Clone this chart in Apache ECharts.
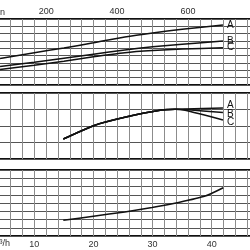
<!DOCTYPE html>
<html><head><meta charset="utf-8">
<script src="https://cdn.jsdelivr.net/npm/echarts@6/dist/echarts.min.js"></script>
<style>html,body{margin:0;padding:0;background:#fff}#c{width:250px;height:250px}</style>
</head><body><div id="c"></div>
<script>
// Flow in m3/h (bottom axis); top axis in l/min
var bottomTicks = [10, 20, 30, 40];
var topTicks = [200, 400, 600];
var curveNames = ['A', 'B', 'C'];
// Panel 1 (grid units 0..9)
var p1A = [[4.2,3.62],[10,4.4],[15,5.05],[20,5.75],[25.3,6.55],[30,7.1],[35,7.6],[41.9,8.19]];
var p1B = [[4.2,2.52],[10,3.1],[15,3.65],[20,4.2],[25.3,4.78],[30,5.2],[35,5.55],[41.9,6.0]];
var p1C = [[4.2,2.11],[10,2.7],[15,3.25],[20,3.85],[25.3,4.41],[30,4.7],[35,4.9],[41.9,5.09]];
// Panel 2 (grid units 0..4)
var p2A = [[14.9,1.21],[20,2.02],[25.3,2.53],[31.5,2.97],[33.8,3.01],[35.5,3.03],[41.9,3.09]];
var p2B = [[14.9,1.21],[20,2.02],[25.3,2.53],[31.5,2.97],[33.8,3.01],[35.5,3.0],[41.9,2.82]];
var p2C = [[14.9,1.21],[20,2.02],[25.3,2.53],[31.5,2.97],[33.8,3.01],[35.5,2.95],[41.9,2.36]];
// Panel 3 (grid units 0..8)
var p3 = [[14.9,1.91],[20,2.4],[25.3,2.92],[29.9,3.46],[34.4,4.07],[38.9,4.84],[41.95,5.85]];

var FONT = 'Liberation Sans, Arial, sans-serif';
var L = -24.8, W = 295.65;
var vLine = {show:true, lineStyle:{color:'#8c8c8c', width:1}};
var hLine = {show:true, lineStyle:{color:'#555', width:1}};
function xa(i, extra){
  var o = {type:'value', gridIndex:i, min:0, max:50, interval:2,
    axisLine:{show:false}, axisTick:{show:false}, axisLabel:{show:false}, splitLine:vLine};
  for (var k in extra) o[k]=extra[k];
  return o;
}
function ya(i, max){
  return {type:'value', gridIndex:i, min:0, max:max, interval:1,
    axisLine:{show:false}, axisTick:{show:false}, axisLabel:{show:false}, splitLine:hLine};
}
function ln(data, xi, yi, name, off){
  return {type:'line', xAxisIndex:xi, yAxisIndex:yi, data:data, showSymbol:false, smooth:0.2,
    silent:true, lineStyle:{color:'#111', width:1.5},
    endLabel: name ? {show:true, formatter:name, color:'#111', fontSize:10, fontFamily:FONT, distance:4, offset:off||[0,0]} : {show:false}};
}
var chart = echarts.init(document.getElementById('c'), null, {renderer:'canvas'});
var gridStyle = {show:true, borderColor:'#111', borderWidth:2, left:L, width:W, height:66,
  containLabel:false, outerBoundsMode:'none'};
chart.setOption({
  animation:false,
  grid:[
    Object.assign({top:19}, gridStyle),
    Object.assign({top:93}, gridStyle),
    Object.assign({top:170}, gridStyle)
  ],
  xAxis:[
    xa(0,{}), xa(1,{}),
    xa(2,{axisLabel:{show:true, color:'#333', fontSize:9, fontFamily:FONT, margin:4,
      formatter:function(v){return bottomTicks.indexOf(v)>=0 ? String(v) : '';}}}),
    {type:'value', gridIndex:0, position:'top', min:0, max:50*1000/60, interval:200,
      axisLine:{show:false}, axisTick:{show:false}, splitLine:{show:false},
      axisLabel:{show:true, color:'#333', fontSize:9, fontFamily:FONT, margin:3,
        formatter:function(v){return topTicks.indexOf(v)>=0 ? String(v) : '';}}}
  ],
  yAxis:[ya(0,9), ya(1,4), ya(2,8)],
  series:[
    ln(p1A,0,0,curveNames[0]), ln(p1B,0,0,curveNames[1]), ln(p1C,0,0,curveNames[2]),
    ln(p2A,1,1,curveNames[0],[0,-2.5]), ln(p2B,1,1,curveNames[1],[0,1.5]), ln(p2C,1,1,curveNames[2],[0,2])
    , ln(p3,2,2,null)
  ],
  graphic:[
    {type:'text', left:-14, top:8, style:{text:'l/min', fill:'#333', font:'9px '+FONT}},
    {type:'text', left:-8, top:239, style:{text:'m³/h', fill:'#333', font:'9px '+FONT}}
  ]
});
</script></body></html>
